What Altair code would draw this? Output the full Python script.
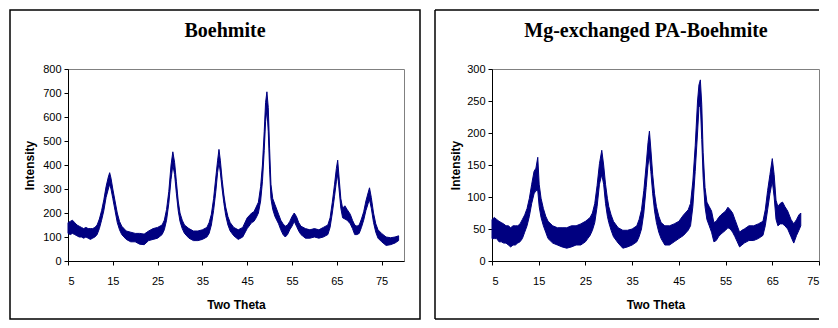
import altair as alt
import pandas as pd

# ---------- Boehmite (left panel): two-theta, lower / upper edge of the noisy trace ----------
b_theta = [5.0, 5.5, 6.0, 6.5, 7.0, 7.5, 8.0, 8.5, 9.0, 9.5, 10.0, 10.5, 11.0, 11.5, 12.0, 12.5,
           13.0, 13.5, 14.0, 14.3, 14.6, 15.0, 15.5, 16.0, 16.5, 17.0, 17.5, 18.0, 19.0, 20.0,
           21.0, 22.0, 23.0, 24.0, 25.0, 26.0, 26.5, 27.0, 27.5, 28.0, 28.4, 28.8, 29.2, 29.6,
           30.0, 30.5, 31.0, 32.0, 33.0, 34.0, 35.0, 36.0, 36.5, 37.0, 37.5, 38.0, 38.4, 38.7,
           39.0, 39.4, 39.8, 40.2, 40.7, 41.2, 42.0, 43.0, 44.0, 45.0, 46.0, 46.5, 47.0, 47.5,
           48.0, 48.4, 48.8, 49.1, 49.4, 49.7, 50.0, 50.3, 50.7, 51.2, 52.0, 52.5, 53.0, 53.5,
           54.0, 54.5, 55.0, 55.5, 56.0, 56.5, 57.0, 58.0, 59.0, 60.0, 61.0, 62.0, 63.0, 63.5,
           64.0, 64.5, 64.9, 65.2, 65.5, 65.9, 66.3, 66.8, 67.3, 68.0, 68.5, 69.0, 69.5, 70.0,
           70.5, 71.0, 71.5, 72.0, 72.3, 72.7, 73.2, 73.7, 74.2, 75.0, 76.0, 77.0, 78.0, 78.8]
b_lo = [115, 110, 115, 110, 105, 100, 100, 95, 100, 95, 90, 95, 100, 110, 135, 170,
        210, 265, 300, 320, 300, 260, 210, 160, 130, 110, 100, 90, 80, 80,
        70, 68, 85, 90, 95, 110, 130, 170, 240, 340, 400, 360, 280, 210,
        165, 135, 115, 95, 85, 85, 90, 100, 115, 150, 210, 290, 370, 410,
        370, 300, 240, 190, 150, 125, 105, 90, 100, 135, 160, 165, 180, 200,
        250, 330, 460, 580, 630, 540, 380, 260, 215, 185, 155, 130, 110, 100,
        110, 130, 145, 165, 145, 125, 110, 95, 95, 100, 95, 100, 110, 140,
        200, 270, 330, 360, 300, 220, 180, 175, 170, 155, 135, 110, 110, 115,
        140, 170, 210, 240, 255, 220, 160, 120, 95, 80, 65, 68, 75, 85]
b_hi = [160, 165, 170, 160, 150, 145, 140, 135, 140, 135, 135, 135, 140, 150, 175, 210,
        255, 310, 350, 368, 345, 300, 250, 200, 165, 145, 135, 125, 120, 115,
        115, 112, 125, 135, 140, 150, 170, 215, 290, 400, 455, 410, 330, 250,
        200, 170, 150, 135, 125, 125, 130, 140, 160, 195, 260, 350, 420, 465,
        420, 340, 275, 225, 185, 160, 140, 130, 140, 180, 200, 205, 225, 245,
        310, 400, 540, 660, 705, 640, 470, 320, 260, 235, 195, 170, 155, 145,
        150, 165, 185, 200, 185, 160, 145, 135, 130, 135, 130, 140, 150, 180,
        245, 320, 385, 420, 350, 260, 220, 230, 215, 195, 170, 150, 145, 150,
        175, 205, 250, 285, 305, 265, 200, 155, 130, 115, 100, 97, 100, 105]

# ---------- Mg-exchanged PA-Boehmite (right panel) ----------
m_theta = [5.0, 5.5, 6.0, 6.5, 7.0, 7.5, 8.0, 8.5, 9.0, 9.5, 10.0, 10.5, 11.0, 11.5, 12.0, 12.5,
           13.0, 13.5, 14.0, 14.4, 14.8, 15.1, 15.5, 16.0, 16.5, 17.0, 18.0, 19.0, 20.0, 21.0,
           22.0, 23.0, 24.0, 25.0, 25.5, 26.0, 26.5, 27.0, 27.5, 28.0, 28.5, 28.9, 29.3, 29.7,
           30.0, 30.5, 31.0, 32.0, 33.0, 34.0, 35.0, 36.0, 36.5, 37.0, 37.5, 38.0, 38.4, 38.7,
           39.0, 39.4, 39.8, 40.2, 40.7, 41.2, 42.0, 43.0, 44.0, 45.0, 46.0, 47.0, 47.5, 48.0,
           48.5, 49.0, 49.3, 49.6, 49.9, 50.2, 50.6, 51.0, 51.5, 52.0, 52.5, 53.0, 53.5, 54.0,
           55.0, 55.5, 56.0, 56.5, 57.0, 57.5, 58.0, 58.5, 59.0, 60.0, 61.0, 62.0, 63.0, 63.5,
           64.0, 64.5, 65.0, 65.4, 65.8, 66.2, 66.7, 67.2, 67.7, 68.3, 69.0, 69.6, 70.2, 70.7, 71.1]
m_lo = [35, 35, 35, 30, 30, 28, 28, 25, 22, 25, 25, 28, 30, 35, 45, 55,
        70, 90, 105, 110, 110, 85, 68, 55, 45, 35, 28, 25, 22, 20,
        22, 25, 25, 30, 35, 40, 48, 60, 85, 120, 135, 120, 90, 70,
        60, 48, 38, 28, 20, 22, 25, 30, 38, 50, 75, 115, 150, 165,
        140, 105, 78, 60, 45, 35, 25, 25, 30, 35, 40, 48, 55, 85,
        140, 200, 240, 245, 190, 130, 85, 65, 55, 45, 30, 32, 38, 42,
        48, 52, 50, 45, 38, 30, 22, 25, 28, 32, 32, 35, 40, 55,
        80, 105, 125, 100, 65, 55, 58, 58, 55, 50, 38, 28, 40, 48, 55]
m_hi = [65, 68, 65, 62, 60, 58, 55, 55, 52, 55, 55, 55, 58, 65, 72, 82,
        98, 120, 140, 145, 162, 120, 98, 82, 70, 62, 55, 52, 52, 52,
        55, 55, 58, 62, 65, 68, 75, 90, 118, 152, 173, 150, 120, 98,
        85, 72, 62, 52, 48, 48, 50, 55, 65, 80, 110, 150, 185, 203,
        175, 135, 105, 85, 70, 60, 55, 55, 58, 62, 72, 80, 90, 125,
        180, 250, 275, 283, 245, 170, 115, 92, 85, 78, 60, 62, 68, 72,
        78, 84, 80, 75, 65, 55, 45, 48, 50, 55, 55, 58, 62, 80,
        110, 135, 160, 135, 95, 85, 90, 92, 85, 78, 65, 58, 65, 72, 75]

boehmite = pd.DataFrame({"theta": b_theta, "lo": b_lo, "hi": b_hi})
mg = pd.DataFrame({"theta": m_theta, "lo": m_lo, "hi": m_hi})

NAVY = "#000080"
H = 192
TOP = -59
BOT = 250


def panel(df, title, xmax, ymax, ystep, title_x, width, right_open=False, ytitle_x=-35):
    x_ticks = list(range(5, 76, 10))
    y_ticks = list(range(0, ymax + 1, ystep))
    trace = alt.Chart(df).mark_area(
        color=NAVY, stroke=NAVY, strokeWidth=1, interpolate="linear", opacity=1
    ).encode(
        x=alt.X("theta:Q",
                scale=alt.Scale(domain=[5, xmax], nice=False, zero=False),
                axis=alt.Axis(values=x_ticks, title="Two Theta", titleY=47,
                              titleBaseline="alphabetic")),
        y=alt.Y("lo:Q",
                scale=alt.Scale(domain=[0, ymax], nice=False),
                axis=alt.Axis(values=y_ticks, title="Intensity", titleX=ytitle_x,
                              titleBaseline="alphabetic")),
        y2="hi:Q",
    )
    tdf = pd.DataFrame({"t": [title]})
    ttl = alt.Chart(tdf).mark_text(
        font="Liberation Serif", fontSize=20, fontWeight="bold", color="black",
        align="center", baseline="alphabetic"
    ).encode(x=alt.value(title_x), y=alt.value(-32), text="t:N")

    if not right_open:
        frame = alt.Chart(tdf).mark_rect(
            fill="white", fillOpacity=0, stroke="black", strokeWidth=1.5
        ).encode(x=alt.value(-58), x2=alt.value(352), y=alt.value(TOP), y2=alt.value(BOT))
        layers = [frame, trace, ttl]
    else:
        top = alt.Chart(tdf).mark_rule(color="black", strokeWidth=1.5).encode(
            x=alt.value(-57), x2=alt.value(width), y=alt.value(TOP))
        bottom = alt.Chart(tdf).mark_rule(color="black", strokeWidth=1.5).encode(
            x=alt.value(-57), x2=alt.value(width), y=alt.value(BOT))
        left = alt.Chart(tdf).mark_rule(color="black", strokeWidth=1.5).encode(
            x=alt.value(-57), y=alt.value(TOP), y2=alt.value(BOT))
        layers = [top, bottom, left, trace, ttl]
    return alt.layer(*layers).properties(width=width, height=H)


left = panel(boehmite, "Boehmite", 80, 800, 100, 157, 336)
right = panel(mg, "Mg-exchanged PA-Boehmite", 75, 300, 50, 154, 327,
              right_open=True, ytitle_x=-33)

chart = alt.hconcat(left, right, spacing=11).properties(
    padding={"left": 0, "top": 0, "right": 0, "bottom": 0}
).configure(
    background="white"
).configure_view(
    stroke="#808080", strokeWidth=1
).configure_axis(
    grid=False,
    domainColor="black", domainWidth=1,
    tickColor="black", tickSize=4, tickWidth=1,
    labelFont="Liberation Sans", labelFontSize=11, labelColor="black",
    titleFont="Liberation Sans", titleFontSize=12, titleFontWeight="bold", titleColor="black",
).configure_axisX(
    labelPadding=10,
).configure_axisY(
    labelPadding=3,
)

chart.save("out.html", embed_options={"renderer": "svg", "actions": False})
